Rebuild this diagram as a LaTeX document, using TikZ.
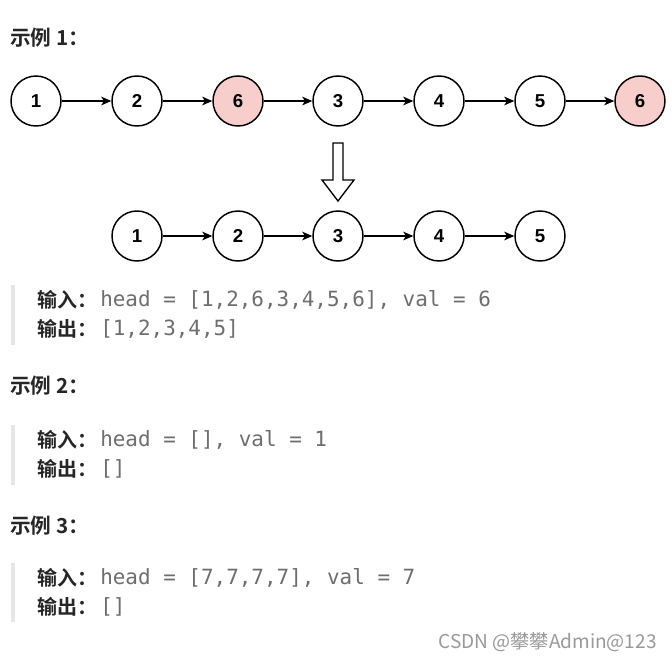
\documentclass[tikz,border=0pt]{standalone}
\usepackage{fontspec}
\usetikzlibrary{arrows.meta}
\newfontfamily\cjkb{Noto Sans CJK SC Bold}
\newfontfamily\cjkr{Noto Sans CJK SC}
\newfontfamily\numfont{Liberation Sans}
\newfontfamily\codefont{DejaVu Sans Mono}
\definecolor{pinkfill}{HTML}{F8CECC}
\definecolor{codegray}{HTML}{6E6E6E}
\definecolor{headc}{HTML}{262626}
\definecolor{barc}{HTML}{E6E6E6}
\definecolor{wmc}{HTML}{9A9A9A}
\begin{document}
\begin{tikzpicture}[x=0.75pt,y=-0.75pt,
  lnode/.style={circle,draw=black,line width=1.1pt,fill=white,minimum size=37.5pt,inner sep=0pt,
    font=\numfont\bfseries\fontsize{14}{16}\selectfont},
  rnode/.style={lnode,fill=pinkfill},
  link/.style={line width=1pt,-{Stealth[length=7.5pt,width=6.5pt,inset=2pt]}},
  heading/.style={anchor=west,inner sep=0pt,text=headc,font=\cjkb\fontsize{15.5}{18}\selectfont},
  label/.style={anchor=west,inner sep=0pt,text=headc,font=\cjkb\fontsize{15}{18}\selectfont},
  code/.style={anchor=west,inner sep=0pt,text=codegray,font=\codefont\fontsize{15.7}{18}\selectfont},
  bar/.style={fill=barc,draw=none}]
\useasboundingbox[fill=white] (0,0) rectangle (672,662);

% Example 1
\node[heading] (h1) at (10,38) {示例 1：};
\node[lnode] (a1) at (36,101) {1};
\node[lnode] (a2) at (137,101) {2};
\node[rnode] (a3) at (238,101) {6};
\node[lnode] (a4) at (338,101) {3};
\node[lnode] (a5) at (439,101) {4};
\node[lnode] (a6) at (540,101) {5};
\node[rnode] (a7) at (640,101) {6};
\foreach \i/\j in {a1/a2,a2/a3,a3/a4,a4/a5,a5/a6,a6/a7} \draw[link] (\i) -- (\j);

\draw[line width=1pt,fill=white] (333,143) -- (343,143) -- (343,180) -- (354,180) -- (338,201) -- (322,180) -- (333,180) -- cycle;

\node[lnode] (b1) at (137,236) {1};
\node[lnode] (b2) at (238,236) {2};
\node[lnode] (b3) at (338,236) {3};
\node[lnode] (b4) at (439,236) {4};
\node[lnode] (b5) at (540,236) {5};
\foreach \i/\j in {b1/b2,b2/b3,b3/b4,b4/b5} \draw[link] (\i) -- (\j);

\fill[bar] (11,285) rectangle (15,345);
\node[label] (in1) at (37,300) {输入：};
\node[code] (ci1) at (100,300) {head = [1,2,6,3,4,5,6], val = 6};
\node[label] (out1) at (37,329) {输出：};
\node[code] (co1) at (100,329) {[1,2,3,4,5]};

% Example 2
\node[heading] (h2) at (10,386) {示例 2：};
\fill[bar] (11,425) rectangle (15,485);
\node[label] (in2) at (37,440) {输入：};
\node[code] (ci2) at (100,440) {head = [], val = 1};
\node[label] (out2) at (37,469) {输出：};
\node[code] (co2) at (100,469) {[]};

% Example 3
\node[heading] (h3) at (10,526) {示例 3：};
\fill[bar] (11,563) rectangle (15,622);
\node[label] (in3) at (37,578) {输入：};
\node[code] (ci3) at (100,578) {head = [7,7,7,7], val = 7};
\node[label] (out3) at (37,607) {输出：};
\node[code] (co3) at (100,607) {[]};

\node[anchor=east,inner sep=0pt,text=wmc,font=\cjkr\fontsize{14.3}{16}\selectfont] (wm) at (657,642) {CSDN @攀攀Admin@123};
\end{tikzpicture}
\end{document}
